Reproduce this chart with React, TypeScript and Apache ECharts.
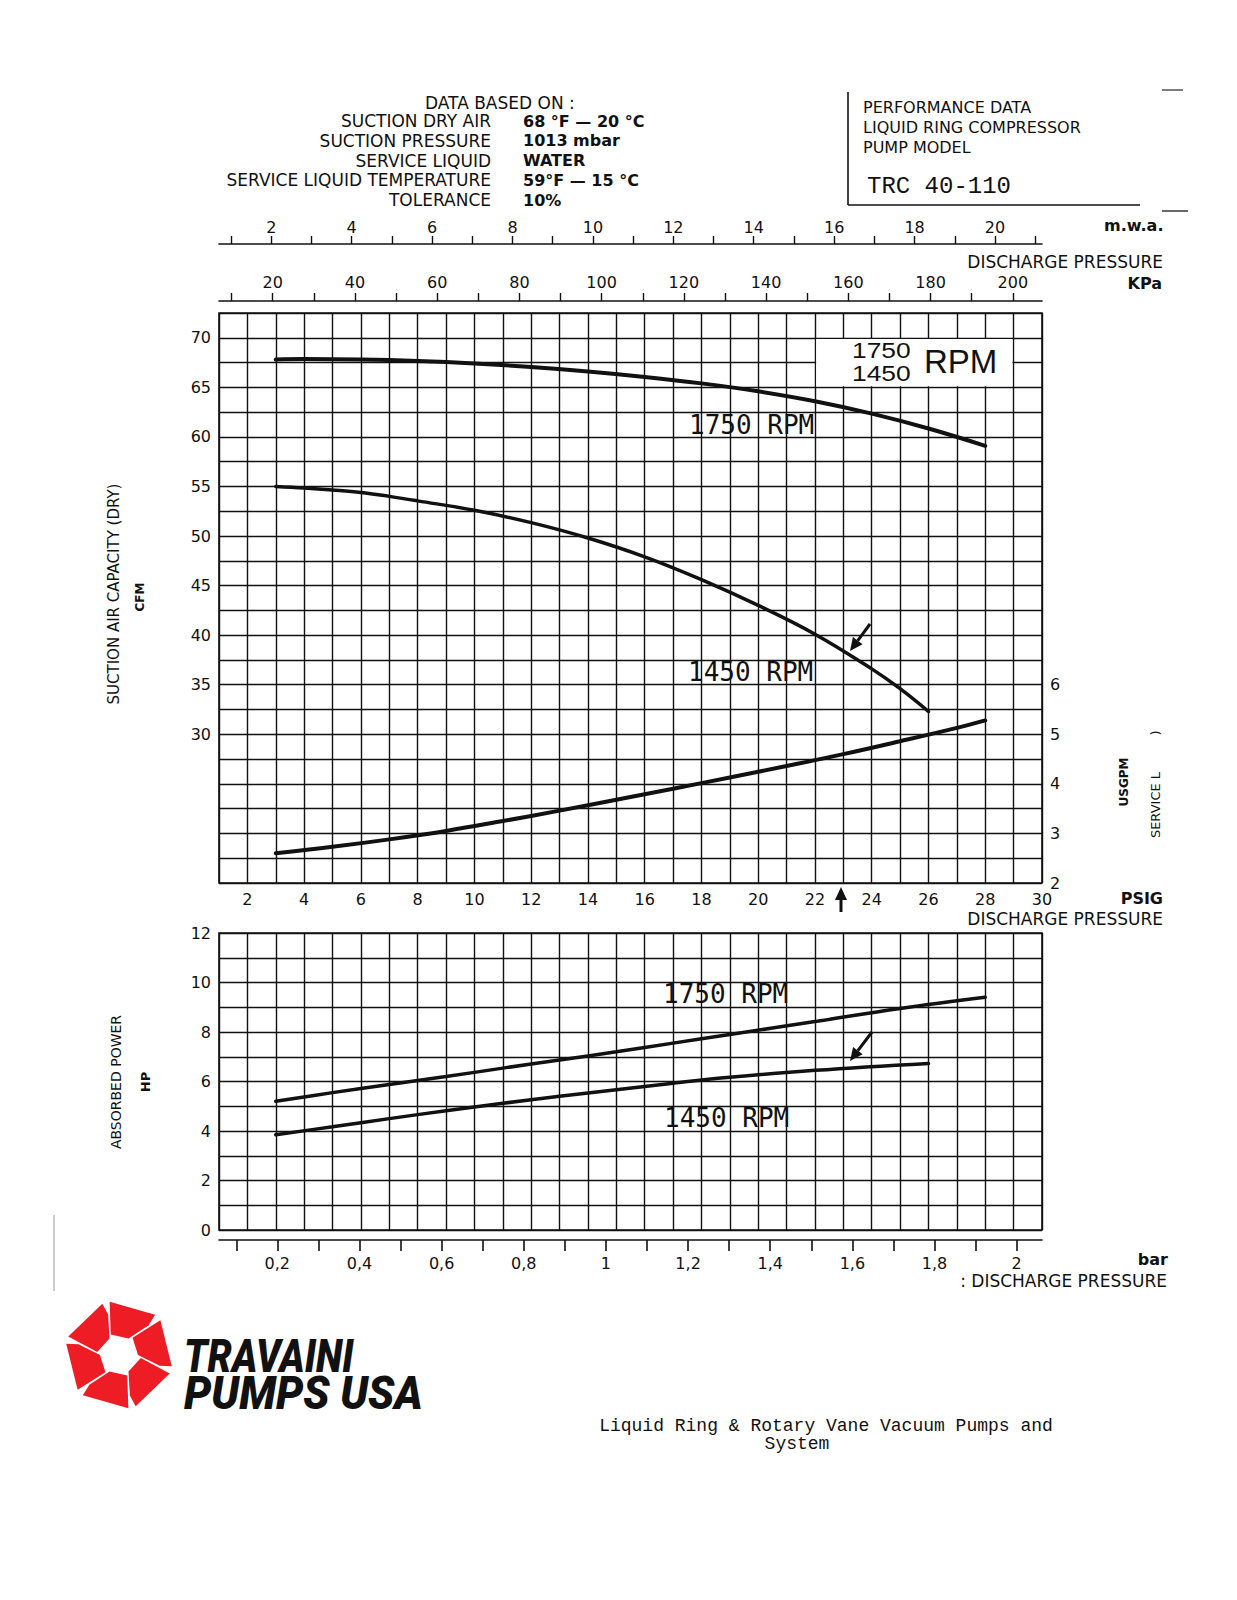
import React, { useEffect, useRef } from "react";
import * as echarts from "echarts";

// ---------- data ----------
const psigCfm1750 = [3, 4, 6, 8, 10, 12, 14, 16, 18, 20, 22, 24, 26, 28];
const cfm1750 = [67.8, 67.85, 67.8, 67.65, 67.4, 67.05, 66.6, 66.05, 65.4, 64.6, 63.6, 62.35, 60.85, 59.1];
const psigCfm1450 = [3, 4, 5, 6, 7, 8, 10, 12, 14, 16, 18, 20, 22, 24, 25, 26];
const cfm1450 = [55.0, 54.85, 54.65, 54.4, 54.0, 53.55, 52.6, 51.35, 49.8, 47.9, 45.6, 43.0, 40.1, 36.6, 34.6, 32.3];
const psigService = [3, 5, 7, 9, 11, 13, 15, 17, 19, 21, 23, 25, 27, 28];
const gpmService = [2.6, 2.73, 2.88, 3.05, 3.25, 3.46, 3.68, 3.9, 4.13, 4.36, 4.6, 4.86, 5.13, 5.28];
const psigHp1750 = [3, 5, 7, 9, 11, 13, 15, 17, 19, 22, 25, 28];
const hp1750 = [5.2, 5.55, 5.88, 6.2, 6.54, 6.87, 7.2, 7.55, 7.9, 8.42, 8.95, 9.4];
const psigHp1450 = [3, 5, 7, 9, 11, 13, 15, 17, 19, 22, 26];
const hp1450 = [3.85, 4.17, 4.5, 4.82, 5.12, 5.4, 5.67, 5.93, 6.17, 6.45, 6.73];

// tick labels
const psigLabels = [2, 4, 6, 8, 10, 12, 14, 16, 18, 20, 22, 24, 26, 28, 30];
const cfmLabels = [30, 35, 40, 45, 50, 55, 60, 65, 70];
const gpmLabels = [2, 3, 4, 5, 6];
const hpLabels = [0, 2, 4, 6, 8, 10, 12];
const mwaTicks = [1, 2, 3, 4, 5, 6, 7, 8, 9, 10, 11, 12, 13, 14, 15, 16, 17, 18, 19, 20, 21];
const mwaLabels = [2, 4, 6, 8, 10, 12, 14, 16, 18, 20];
const kpaTicks = [10, 20, 30, 40, 50, 60, 70, 80, 90, 100, 110, 120, 130, 140, 150, 160, 170, 180, 190, 200];
const kpaLabels = [20, 40, 60, 80, 100, 120, 140, 160, 180, 200];
const barTicks = [0.1, 0.2, 0.3, 0.4, 0.5, 0.6, 0.7, 0.8, 0.9, 1.0, 1.1, 1.2, 1.3, 1.4, 1.5, 1.6, 1.7, 1.8, 1.9, 2.0];
const barLabels = [0.2, 0.4, 0.6, 0.8, 1.0, 1.2, 1.4, 1.6, 1.8, 2.0];

// header texts
const headerLabels = ["SUCTION DRY AIR", "SUCTION PRESSURE", "SERVICE LIQUID", "SERVICE LIQUID TEMPERATURE", "TOLERANCE"];
const headerValues = ["68 °F — 20 °C", "1013 mbar", "WATER", "59°F — 15 °C", "10%"];
const boxLines = ["PERFORMANCE DATA", "LIQUID RING COMPRESSOR", "PUMP MODEL"];
const modelName = "TRC 40-110";

const INK = "#111";
const SANS = '"DejaVu Sans", sans-serif';

function pairs(xs: number[], ys: number[]) {
  return xs.map((x, i) => [x, ys[i]]);
}

function txt(x: number, y: number, text: string, size: number, opts: any = {}) {
  const align = opts.align || "left";
  return {
    type: "text",
    x,
    y,
    rotation: opts.rotation || 0,
    scaleX: opts.scaleX || 1,
    z: 20,
    style: {
      text,
      font: `${opts.style || ""} ${opts.weight || "normal"} ${size}px ${opts.family || SANS}`,
      fill: opts.fill || INK,
      textAlign: align,
      align,
      textVerticalAlign: "middle",
      verticalAlign: "middle",
    },
  };
}

function arrow(x1: number, y1: number, x2: number, y2: number) {
  const dx = x2 - x1, dy = y2 - y1;
  const len = Math.hypot(dx, dy);
  const ux = dx / len, uy = dy / len;
  const bx = x2 - ux * 13, by = y2 - uy * 13;
  const px = -uy, py = ux;
  return [
    { type: "line", z: 20, shape: { x1, y1, x2: bx, y2: by }, style: { stroke: INK, lineWidth: 3 } },
    {
      type: "polygon",
      z: 20,
      shape: { points: [[x2, y2], [bx + px * 6, by + py * 6], [bx - px * 6, by - py * 6]] },
      style: { fill: INK },
    },
  ];
}

function logo(cx: number, cy: number) {
  const blade = [
    [0, 54], [52, 54], [55, 42], [40, 19], [-12, 22],
  ];
  const els: any[] = [];
  for (let k = 0; k < 6; k++) {
    const base = k * 60 - 100;
    const pts = blade.map(([a, r]) => {
      const t = ((base + a) * Math.PI) / 180;
      return [cx + r * Math.cos(t), cy + r * Math.sin(t)];
    });
    els.push({ type: "polygon", z: 20, shape: { points: pts }, style: { fill: "#ee1c25" } });
  }
  return els;
}

export default function App() {
  const ref = useRef<HTMLDivElement>(null);

  useEffect(() => {
    const chart = echarts.init(ref.current!, null, { renderer: "svg" });

    const gridLine = { show: true, lineStyle: { color: INK, width: 1.4 } };
    const tickFont = { fontFamily: SANS, fontSize: 16, color: INK };
    const curve = (width: number) => ({
      type: "line", showSymbol: false, smooth: 0.4,
      lineStyle: { color: INK, width, cap: "round" }, z: 5,
    });

    const option: any = {
      animation: false,
      backgroundColor: "#fff",
      grid: [
        { left: 219, top: 313, width: 823, height: 570, show: true, borderColor: INK, borderWidth: 1.6 },
        { left: 219, top: 933, width: 823, height: 297, show: true, borderColor: INK, borderWidth: 1.6 },
      ],
      xAxis: [
        {
          gridIndex: 0, type: "value", min: 1, max: 30, interval: 1, position: "bottom",
          axisLine: { show: false }, axisTick: { show: false },
          axisLabel: { ...tickFont, margin: 8, customValues: psigLabels },
          splitLine: gridLine,
        },
        {
          gridIndex: 0, type: "value", min: 0.7, max: 21.17, position: "top", offset: 69,
          axisLine: { show: true, lineStyle: { color: INK, width: 1.6 } },
          axisTick: { show: true, length: 8, customValues: mwaTicks, lineStyle: { color: INK, width: 1.4 } },
          axisLabel: { ...tickFont, margin: 9, customValues: mwaLabels },
          splitLine: { show: false },
        },
        {
          gridIndex: 0, type: "value", min: 6.94, max: 207.1, position: "top", offset: 12,
          axisLine: { show: true, lineStyle: { color: INK, width: 1.6 } },
          axisTick: { show: true, length: 8, customValues: kpaTicks, lineStyle: { color: INK, width: 1.4 } },
          axisLabel: { ...tickFont, margin: 11, customValues: kpaLabels },
          splitLine: { show: false },
        },
        {
          gridIndex: 1, type: "value", min: 1, max: 30, interval: 1, position: "bottom",
          axisLine: { show: false }, axisTick: { show: false }, axisLabel: { show: false },
          splitLine: gridLine,
        },
        {
          gridIndex: 1, type: "value", min: 0.058, max: 2.0616, position: "bottom", offset: 10,
          axisLine: { show: true, lineStyle: { color: INK, width: 1.6 } },
          axisTick: { show: true, length: 11, customValues: barTicks, lineStyle: { color: INK, width: 1.6 } },
          axisLabel: {
            ...tickFont, margin: 15, customValues: barLabels,
            formatter: (v: number) => String(+v.toFixed(1)).replace(".", ","),
          },
          splitLine: { show: false },
        },
      ],
      yAxis: [
        {
          gridIndex: 0, type: "value", min: 15, max: 72.5, interval: 2.5, position: "left",
          axisLine: { show: false }, axisTick: { show: false },
          axisLabel: { ...tickFont, margin: 8, customValues: cfmLabels },
          splitLine: gridLine,
        },
        {
          gridIndex: 0, type: "value", min: 2, max: 13.5, position: "right",
          axisLine: { show: false }, axisTick: { show: false },
          axisLabel: { ...tickFont, margin: 8, customValues: gpmLabels },
          splitLine: { show: false },
        },
        {
          gridIndex: 1, type: "value", min: 0, max: 12, interval: 1, position: "left",
          axisLine: { show: false }, axisTick: { show: false },
          axisLabel: { ...tickFont, margin: 8, customValues: hpLabels },
          splitLine: gridLine,
        },
      ],
      series: [
        { ...curve(4), name: "1750 RPM capacity", xAxisIndex: 0, yAxisIndex: 0, data: pairs(psigCfm1750, cfm1750) },
        { ...curve(3.5), name: "1450 RPM capacity", xAxisIndex: 0, yAxisIndex: 0, data: pairs(psigCfm1450, cfm1450) },
        { ...curve(4), name: "Service liquid", xAxisIndex: 0, yAxisIndex: 1, data: pairs(psigService, gpmService) },
        { ...curve(3.5), name: "1750 RPM power", xAxisIndex: 3, yAxisIndex: 2, data: pairs(psigHp1750, hp1750) },
        { ...curve(3.5), name: "1450 RPM power", xAxisIndex: 3, yAxisIndex: 2, data: pairs(psigHp1450, hp1450) },
      ],
    };
    chart.setOption(option);

    // legend box in the upper grid, placed through the chart's own scales
    const p1 = chart.convertToPixel({ gridIndex: 0 }, [22, 70]) as number[];
    const p2 = chart.convertToPixel({ gridIndex: 0 }, [29, 65]) as number[];

    const g: any[] = [];
    g.push({
      type: "rect", z: 15,
      shape: { x: p1[0] + 1.2, y: p1[1] + 1.2, width: p2[0] - p1[0] - 2.4, height: p2[1] - p1[1] - 2.4 },
      style: { fill: "#fff" },
    });
    const lsans = '"Liberation Sans", sans-serif';
    g.push(txt(852, 350, "1750", 22, { family: lsans, scaleX: 1.2 }));
    g.push(txt(852, 373, "1450", 22, { family: lsans, scaleX: 1.2 }));
    g.push(txt(924, 361, "RPM", 33, { family: lsans }));

    // curve labels
    const mono = '"DejaVu Sans Mono", monospace';
    g.push(txt(689, 425, "1750 RPM", 26, { family: mono }));
    g.push(txt(688, 672, "1450 RPM", 26, { family: mono }));
    g.push(txt(663, 994, "1750 RPM", 26, { family: mono }));
    g.push(txt(664, 1118, "1450 RPM", 26, { family: mono }));

    // arrows
    g.push(...arrow(870, 624, 850, 651));
    g.push(...arrow(872, 1032, 850, 1061));
    g.push(...arrow(841, 912, 841, 887));

    // header
    g.push(txt(425, 103, "DATA BASED ON :", 17));
    headerLabels.forEach((s, i) => g.push(txt(491, 121 + i * 19.8, s, 17, { align: "right" })));
    headerValues.forEach((s, i) => g.push(txt(523, 121 + i * 19.8, s, 16, { weight: "bold" })));

    // model box
    g.push({ type: "line", z: 20, shape: { x1: 848, y1: 92, x2: 848, y2: 205 }, style: { stroke: INK, lineWidth: 1.6 } });
    g.push({ type: "line", z: 20, shape: { x1: 848, y1: 205, x2: 1140, y2: 205 }, style: { stroke: INK, lineWidth: 1.6 } });
    g.push({ type: "line", z: 20, shape: { x1: 1162, y1: 90, x2: 1183, y2: 90 }, style: { stroke: "#444", lineWidth: 1.4 } });
    g.push({ type: "line", z: 20, shape: { x1: 1162, y1: 211, x2: 1188, y2: 211 }, style: { stroke: "#444", lineWidth: 1.6 } });
    boxLines.forEach((s, i) => g.push(txt(863, 107 + i * 20, s, 16)));
    g.push(txt(867, 186, modelName, 24, { family: '"Liberation Mono", monospace' }));

    // axis titles
    g.push(txt(1104, 225, "m.w.a.", 16, { weight: "bold" }));
    g.push(txt(1163, 262, "DISCHARGE PRESSURE", 17, { align: "right" }));
    g.push(txt(1162, 283, "KPa", 16, { weight: "bold", align: "right" }));
    g.push(txt(1163, 898, "PSIG", 16, { weight: "bold", align: "right" }));
    g.push(txt(1163, 919, "DISCHARGE PRESSURE", 17, { align: "right" }));
    g.push(txt(1168, 1259, "bar", 16, { weight: "bold", align: "right" }));
    g.push(txt(1167, 1281, ": DISCHARGE PRESSURE", 17, { align: "right" }));

    g.push(txt(114, 594, "SUCTION AIR CAPACITY (DRY)", 15, { rotation: Math.PI / 2, align: "center" }));
    g.push(txt(140, 597, "CFM", 12, { rotation: Math.PI / 2, align: "center", weight: "bold" }));
    g.push(txt(116, 1082, "ABSORBED POWER", 14, { rotation: Math.PI / 2, align: "center" }));
    g.push(txt(145, 1082, "HP", 13, { rotation: Math.PI / 2, align: "center", weight: "bold" }));
    g.push(txt(1124, 782, "USGPM", 12, { rotation: Math.PI / 2, align: "center", weight: "bold" }));
    g.push(txt(1155, 805, "SERVICE L", 13, { rotation: Math.PI / 2, align: "center" }));
    g.push(txt(1155, 733, ")", 13, { rotation: Math.PI / 2, align: "center" }));

    // scan marks
    g.push({ type: "line", z: 20, shape: { x1: 54, y1: 1215, x2: 54, y2: 1291 }, style: { stroke: "#999", lineWidth: 1 } });

    // logo
    g.push(...logo(119, 1355));
    g.push(txt(184, 1356, "TRAVAINI", 47, { family: "Roboto, sans-serif", weight: "900", style: "italic", scaleX: 0.82 }));
    g.push(txt(184, 1393, "PUMPS USA", 47, { family: "Roboto, sans-serif", weight: "900", style: "italic", scaleX: 0.92 }));

    // footer
    g.push(txt(826, 1426, "Liquid Ring & Rotary Vane Vacuum Pumps and", 18, { family: '"Liberation Mono", monospace', align: "center" }));
    g.push(txt(797, 1444, "System", 18, { family: '"Liberation Mono", monospace', align: "center" }));

    chart.setOption({ graphic: { elements: g } });

    return () => chart.dispose();
  }, []);

  return (
    <div
      ref={ref}
      style={{ position: "absolute", left: 0, top: 0, width: 1237, height: 1600, background: "#fff" }}
    />
  );
}
